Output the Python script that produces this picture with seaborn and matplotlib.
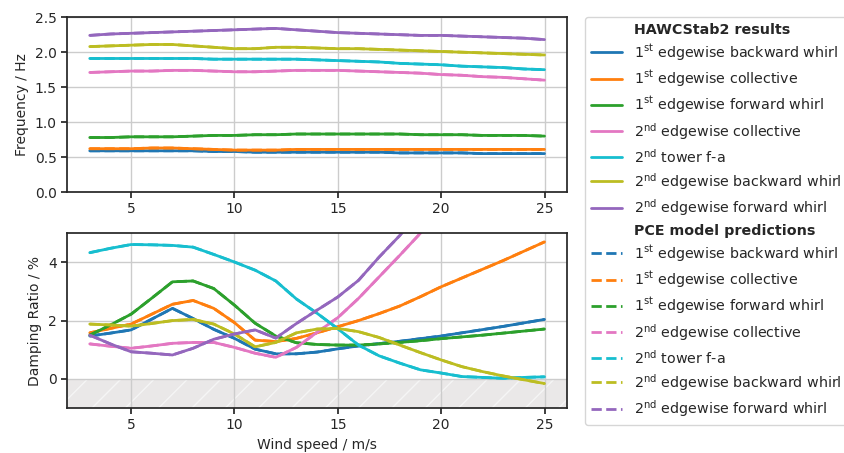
import numpy as np
import pandas as pd
import matplotlib
matplotlib.use("Agg")
import matplotlib.pyplot as plt
import seaborn as sns
from matplotlib.lines import Line2D

sns.set_theme(style="ticks", rc={
    "axes.grid": True,
    "grid.color": "#cccccc",
    "axes.edgecolor": "#262626",
    "font.size": 10,
    "axes.labelsize": 10,
    "xtick.labelsize": 10,
    "ytick.labelsize": 10,
    "legend.fontsize": 10.3,
})
plt.rcParams['font.family'] = ['DejaVu Sans']

# wind speeds [m/s]
wind_speed = list(range(3, 26))

mode_labels = [
    r"1$^{\rm st}$ edgewise backward whirl",
    r"1$^{\rm st}$ edgewise collective",
    r"1$^{\rm st}$ edgewise forward whirl",
    r"2$^{\rm nd}$ edgewise collective",
    r"2$^{\rm nd}$ tower f-a",
    r"2$^{\rm nd}$ edgewise backward whirl",
    r"2$^{\rm nd}$ edgewise forward whirl",
]

# frequencies [Hz]
freq_bw1 = [0.59, 0.59, 0.59, 0.59, 0.59, 0.59, 0.58, 0.58, 0.57, 0.57, 0.57, 0.57,
            0.57, 0.57, 0.57, 0.56, 0.56, 0.56, 0.56, 0.55, 0.55, 0.55, 0.55]
freq_col1 = [0.62, 0.62, 0.62, 0.63, 0.63, 0.62, 0.61, 0.60, 0.60, 0.60, 0.61, 0.61,
             0.61, 0.61, 0.61, 0.61, 0.61, 0.61, 0.61, 0.61, 0.61, 0.61, 0.61]
freq_fw1 = [0.78, 0.78, 0.79, 0.79, 0.79, 0.80, 0.81, 0.81, 0.82, 0.82, 0.83, 0.83,
            0.83, 0.83, 0.83, 0.83, 0.82, 0.82, 0.82, 0.81, 0.81, 0.81, 0.80]
freq_col2 = [1.71, 1.72, 1.73, 1.73, 1.74, 1.74, 1.73, 1.72, 1.72, 1.73, 1.74, 1.74,
             1.74, 1.73, 1.72, 1.71, 1.70, 1.68, 1.67, 1.65, 1.64, 1.62, 1.60]
freq_tow2 = [1.91, 1.91, 1.91, 1.91, 1.91, 1.91, 1.90, 1.90, 1.90, 1.90, 1.90, 1.89,
             1.88, 1.87, 1.86, 1.84, 1.83, 1.82, 1.80, 1.79, 1.78, 1.76, 1.75]
freq_bw2 = [2.08, 2.09, 2.10, 2.11, 2.11, 2.09, 2.07, 2.05, 2.05, 2.07, 2.07, 2.06,
            2.05, 2.05, 2.04, 2.03, 2.02, 2.01, 2.00, 1.99, 1.98, 1.97, 1.96]
freq_fw2 = [2.24, 2.26, 2.27, 2.28, 2.29, 2.30, 2.31, 2.32, 2.33, 2.34, 2.32, 2.30,
            2.28, 2.27, 2.26, 2.25, 2.24, 2.24, 2.23, 2.22, 2.21, 2.20, 2.18]

# damping ratios [%]
damp_bw1 = [1.47, 1.57, 1.68, 2.05, 2.42, 2.07, 1.70, 1.39, 1.02, 0.86, 0.86, 0.92,
            1.03, 1.13, 1.21, 1.29, 1.38, 1.47, 1.58, 1.69, 1.80, 1.92, 2.04]
damp_col1 = [1.58, 1.73, 1.88, 2.22, 2.56, 2.69, 2.42, 1.93, 1.33, 1.28, 1.39, 1.58,
             1.79, 2.00, 2.24, 2.50, 2.82, 3.16, 3.46, 3.76, 4.06, 4.38, 4.70]
damp_fw1 = [1.50, 1.85, 2.22, 2.77, 3.33, 3.36, 3.10, 2.53, 1.91, 1.47, 1.24, 1.18,
            1.16, 1.16, 1.20, 1.25, 1.31, 1.38, 1.44, 1.50, 1.57, 1.64, 1.71]
damp_col2 = [1.20, 1.12, 1.05, 1.13, 1.22, 1.25, 1.25, 1.08, 0.88, 0.74, 1.08, 1.60,
             2.10, 2.76, 3.50, 4.24, 5.00, 5.80, 6.60, 7.40, 8.20, 9.00, 9.80]
damp_tow2 = [4.33, 4.48, 4.61, 4.60, 4.58, 4.52, 4.27, 4.01, 3.73, 3.36, 2.74, 2.25,
             1.72, 1.16, 0.79, 0.54, 0.31, 0.20, 0.08, 0.05, 0.02, 0.05, 0.07]
damp_bw2 = [1.88, 1.85, 1.81, 1.90, 2.00, 2.04, 1.88, 1.54, 1.10, 1.25, 1.58, 1.71,
            1.73, 1.62, 1.42, 1.16, 0.90, 0.65, 0.42, 0.25, 0.10, -0.03, -0.16]
damp_fw2 = [1.50, 1.20, 0.93, 0.88, 0.82, 1.05, 1.36, 1.54, 1.68, 1.40, 1.90, 2.36,
            2.81, 3.38, 4.18, 4.92, 5.80, 6.70, 7.60, 8.50, 9.40, 10.30, 11.20]

freqs = [freq_bw1, freq_col1, freq_fw1, freq_col2, freq_tow2, freq_bw2, freq_fw2]
damps = [damp_bw1, damp_col1, damp_fw1, damp_col2, damp_tow2, damp_bw2, damp_fw2]

tab = sns.color_palette("tab10")
colors = [tab[0], tab[1], tab[2], tab[6], tab[9], tab[8], tab[4]]

fig = plt.figure(figsize=(8.45, 4.53), dpi=100)
ax_f = fig.add_axes([0.0793, 0.576, 0.592, 0.386])
ax_d = fig.add_axes([0.0793, 0.0993, 0.592, 0.386])

for f, d, c in zip(freqs, damps, colors):
    # HAWCStab2 results (solid) and PCE predictions (dashed) coincide
    sns.lineplot(x=wind_speed, y=f, color=c, lw=2, ax=ax_f)
    sns.lineplot(x=wind_speed, y=f, color=c, lw=2, ls="--", ax=ax_f)
    sns.lineplot(x=wind_speed, y=d, color=c, lw=2, ax=ax_d)
    sns.lineplot(x=wind_speed, y=d, color=c, lw=2, ls="--", ax=ax_d)

ax_d.axhspan(-1, 0, facecolor="#eae8e8", edgecolor="#f5f5f5", hatch="/", lw=0, zorder=0)

for ax in (ax_f, ax_d):
    ax.set_xlim(1.9, 26.1)
    ax.set_xticks([5, 10, 15, 20, 25])
    ax.tick_params(direction="out", length=4, color="#262626")

ax_f.set_ylim(0, 2.5)
ax_f.set_yticks([0, 0.5, 1.0, 1.5, 2.0, 2.5])
ax_f.set_ylabel("Frequency / Hz")
ax_d.set_ylim(-1, 5)
ax_d.set_yticks([0, 2, 4])
ax_d.set_ylabel("Damping Ratio / %")
ax_d.set_xlabel("Wind speed / m/s")

blank = Line2D([], [], linestyle="none")
handles = [blank] + [Line2D([], [], color=c, lw=2) for c in colors]
handles += [blank] + [Line2D([], [], color=c, lw=2, ls="--") for c in colors]
labels = ["HAWCStab2 results"] + mode_labels + ["PCE model predictions"] + mode_labels

leg = fig.legend(handles, labels, loc="upper left",
                 bbox_to_anchor=(585 / 845, 1 - 17 / 453), frameon=True,
                 handlelength=2.2, labelspacing=0.39, borderaxespad=0)
for i in (0, 8):
    leg.get_texts()[i].set_fontweight("bold")

fig.savefig("out.png", dpi=100)
